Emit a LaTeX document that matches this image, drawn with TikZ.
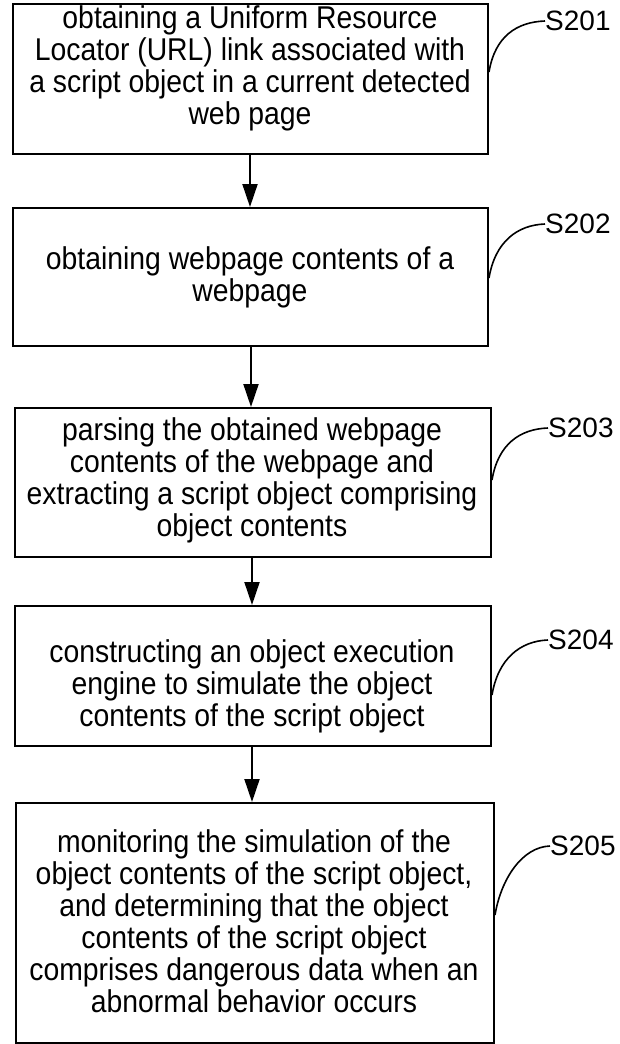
\documentclass[tikz,border=0pt]{standalone}
\usepackage{fontspec}
\setmainfont{Liberation Sans}
\newfontfamily\stepfont[FakeStretch=0.9]{Liberation Sans}
\usetikzlibrary{arrows.meta}
\begin{document}
\begin{tikzpicture}[x=1pt,y=-1pt,
  stepbox/.style={draw, line width=2pt, rectangle, minimum width=#1, anchor=north west, inner sep=0pt},
  steptext/.style={align=center, font=\stepfont\fontsize{31.5}{32}\selectfont, inner sep=0pt},
  flow/.style={line width=2pt, -{Triangle[length=23pt,width=15pt]}},
  hook/.style={line width=1.6pt},
  tag/.style={anchor=west, font=\fontsize{28}{30}\selectfont, inner sep=0pt}]
  \useasboundingbox (0,0) rectangle (619,1044);

  % step boxes
  \node[stepbox=475pt, minimum height=150pt] (b1) at (12,3) {};
  \node[stepbox=475pt, minimum height=138pt] (b2) at (12,207) {};
  \node[stepbox=476pt, minimum height=149pt] (b3) at (14,407) {};
  \node[stepbox=476pt, minimum height=140pt] (b4) at (14,605) {};
  \node[stepbox=478pt, minimum height=240pt] (b5) at (15,802) {};

  % step descriptions
  \node[steptext] (t1) at (250,68) {obtaining a Uniform Resource\\Locator (URL) link associated with\\a script object in a current detected\\web page};
  \node[steptext] (t2) at (250,277) {obtaining webpage contents of a\\webpage};
  \node[steptext] (t3) at (252,480) {parsing the obtained webpage\\contents of the webpage and\\extracting a script object comprising\\object contents};
  \node[steptext] (t4) at (252,686) {constructing an object execution\\engine to simulate the object\\contents of the script object};
  \node[steptext] (t5) at (254,921) {monitoring the simulation of the\\object contents of the script object,\\and determining that the object\\contents of the script object\\comprises dangerous data when an\\abnormal behavior occurs};

  % flow arrows
  \draw[flow] (b1.south -| 250,0) -- (b2.north -| 250,0);
  \draw[flow] (b2.south -| 251,0) -- (b3.north -| 251,0);
  \draw[flow] (b3.south -| 252,0) -- (b4.north -| 252,0);
  \draw[flow] (b4.south -| 252,0) -- (b5.north -| 252,0);

  % step labels with leader curves
  \node[tag] (l1) at (545,21) {S201};
  \node[tag] (l2) at (545,224) {S202};
  \node[tag] (l3) at (548,428) {S203};
  \node[tag] (l4) at (548,640) {S204};
  \node[tag] (l5) at (550,846) {S205};

  \coordinate (c1) at (b1.east |- 0,72);
  \coordinate (c2) at (b2.east |- 0,278);
  \coordinate (c3) at (b3.east |- 0,480);
  \coordinate (c4) at (b4.east |- 0,695);
  \coordinate (c5) at (b5.east |- 0,915);

  \foreach \i in {1,...,5}
    \draw[hook] (c\i) .. controls +(6,-36) and +(-28,1) .. (l\i.west);
\end{tikzpicture}
\end{document}
